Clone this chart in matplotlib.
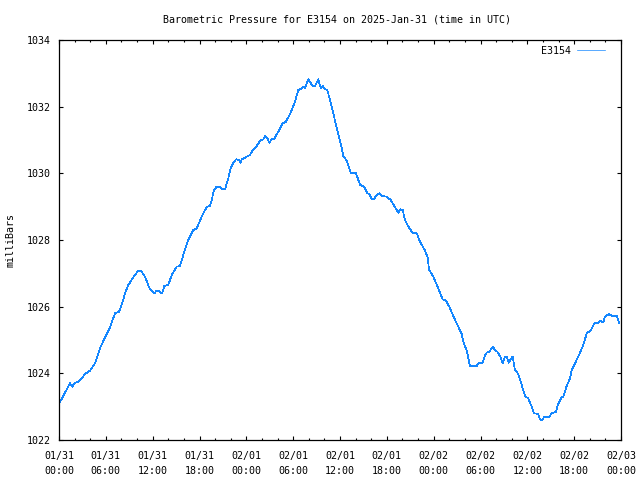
import matplotlib
matplotlib.use('Agg')
import matplotlib.pyplot as plt
import matplotlib.dates as mdates
from matplotlib.ticker import MultipleLocator
import pandas as pd

# hours after 2025-01-31 00:00 UTC
hours = [0.00, 1.41, 1.70, 1.96, 2.47, 2.91, 3.33, 3.97, 4.61, 5.25, 5.89, 6.53, 7.17, 7.69,
         8.24, 8.46, 8.88, 9.52, 10.16, 10.51, 11.02, 11.53, 11.88, 12.21, 12.52, 12.81, 13.07,
         13.23, 13.49, 14.00, 14.44, 15.08, 15.50, 15.92, 16.56, 17.21, 17.64, 18.28, 18.70,
         19.00, 19.34, 19.56, 19.86, 20.20, 20.63, 20.97, 21.27, 21.69, 22.00, 22.33, 22.68,
         23.10, 23.28, 23.41, 24.05, 24.47, 24.89, 25.33, 25.84, 26.17, 26.43, 26.69, 26.94,
         27.25, 27.54, 28.09, 28.66, 29.08, 29.68, 30.23, 30.66, 31.09, 31.30, 31.52, 31.94,
         32.50, 32.80, 33.22, 33.53, 33.78, 34.08, 34.37, 34.72, 35.14, 35.65, 36.09, 36.42,
         36.86, 37.37, 38.05, 38.56, 39.07, 39.50, 39.78, 40.06, 40.36, 40.61, 41.03, 41.34,
         41.98, 42.49, 43.05, 43.47, 43.69, 44.03, 44.33, 44.88, 45.31, 45.83, 46.25, 46.89,
         47.23, 47.40, 47.95, 48.59, 49.16, 49.58, 50.00, 50.51, 51.15, 51.59, 51.79, 52.21,
         52.44, 52.65, 53.51, 53.72, 54.28, 54.58, 54.79, 55.13, 55.56, 55.86, 56.15, 56.50,
         56.84, 57.14, 57.35, 57.61, 57.87, 58.12, 58.42, 58.84, 59.28, 59.70, 60.12, 60.56,
         60.85, 61.40, 61.62, 61.88, 62.13, 62.81, 63.12, 63.67, 63.86, 64.09, 64.40, 64.61,
         65.04, 65.47, 65.68, 66.11, 66.62, 67.17, 67.61, 68.16, 68.58, 69.09, 69.31, 69.73,
         69.95, 70.46, 70.89, 71.45, 71.74]

pressure = [1023.08, 1023.70, 1023.60, 1023.70, 1023.75, 1023.85, 1023.98, 1024.08, 1024.30,
            1024.75, 1025.08, 1025.38, 1025.80, 1025.85, 1026.20, 1026.40, 1026.65, 1026.88,
            1027.08, 1027.08, 1026.90, 1026.58, 1026.48, 1026.40, 1026.48, 1026.48, 1026.40,
            1026.40, 1026.62, 1026.65, 1026.95, 1027.20, 1027.22, 1027.55, 1028.00, 1028.30,
            1028.35, 1028.70, 1028.90, 1029.00, 1029.02, 1029.20, 1029.50, 1029.60, 1029.60,
            1029.52, 1029.52, 1029.85, 1030.15, 1030.32, 1030.42, 1030.40, 1030.32, 1030.42,
            1030.50, 1030.55, 1030.72, 1030.82, 1031.00, 1031.02, 1031.12, 1031.05, 1030.92,
            1031.02, 1031.02, 1031.25, 1031.50, 1031.55, 1031.82, 1032.15, 1032.50, 1032.55,
            1032.60, 1032.55, 1032.82, 1032.62, 1032.62, 1032.82, 1032.55, 1032.62, 1032.52,
            1032.50, 1032.20, 1031.80, 1031.30, 1030.90, 1030.52, 1030.38, 1030.02, 1030.00,
            1029.66, 1029.60, 1029.40, 1029.38, 1029.22, 1029.22, 1029.32, 1029.40, 1029.32,
            1029.30, 1029.20, 1028.98, 1028.82, 1028.92, 1028.90, 1028.60, 1028.35, 1028.22,
            1028.20, 1027.95, 1027.68, 1027.48, 1027.12, 1026.90, 1026.55, 1026.22, 1026.18,
            1026.00, 1025.72, 1025.40, 1025.18, 1024.95, 1024.70, 1024.46, 1024.22, 1024.22,
            1024.30, 1024.32, 1024.55, 1024.62, 1024.65, 1024.80, 1024.70, 1024.65, 1024.52,
            1024.30, 1024.50, 1024.50, 1024.32, 1024.42, 1024.50, 1024.10, 1023.98, 1023.65,
            1023.32, 1023.25, 1023.00, 1022.80, 1022.78, 1022.62, 1022.60, 1022.68, 1022.70,
            1022.80, 1022.84, 1023.02, 1023.15, 1023.28, 1023.30, 1023.62, 1023.85, 1024.10,
            1024.30, 1024.55, 1024.85, 1025.20, 1025.30, 1025.50, 1025.50, 1025.58, 1025.52,
            1025.70, 1025.78, 1025.72, 1025.72, 1025.52]

station = 'E3154'
start = pd.Timestamp('2025-01-31 00:00')
end = pd.Timestamp('2025-02-03 00:00')
times = start + pd.to_timedelta(hours, unit='h')

mono = 'DejaVu Sans Mono'
fs = 7.2

fig = plt.figure(figsize=(6.4, 4.8), dpi=100)
ax = fig.add_axes([59 / 640, 40 / 480, 562 / 640, 400 / 480])

ax.plot(times, pressure, color='#1487ff', lw=0.5, antialiased=False, label=station)

ax.set_xlim(start, end)
ax.set_ylim(1022, 1034)
ax.yaxis.set_major_locator(MultipleLocator(2))
ax.xaxis.set_major_locator(mdates.HourLocator(byhour=range(0, 24, 6)))
ax.xaxis.set_minor_locator(mdates.HourLocator(byhour=range(0, 24, 2)))
ax.xaxis.set_major_formatter(mdates.DateFormatter('%m/%d\n%H:%M'))

ax.tick_params(which='both', direction='in', top=True, right=True, color='black', width=0.8)
ax.tick_params(which='major', length=3.2)
ax.tick_params(which='minor', length=1.6)
ax.tick_params(axis='x', pad=8)
ax.tick_params(axis='y', pad=6)
for lab in ax.get_xticklabels() + ax.get_yticklabels():
    lab.set_fontfamily(mono)
    lab.set_fontsize(fs)
    lab.set_linespacing(1.55)
for s in ax.spines.values():
    s.set_linewidth(0.9)

leg = ax.legend(loc='upper right', frameon=False, prop={'family': mono, 'size': fs},
                markerfirst=False, handlelength=2.8, borderaxespad=0.2, handletextpad=0.6,
                bbox_to_anchor=(0.983, 1.0))

fig.text(0.527, 0.96, 'Barometric Pressure for E3154 on 2025-Jan-31 (time in UTC)',
         ha='center', va='center', family=mono, fontsize=fs)
fig.text(0.017, 0.5, 'milliBars', rotation=90, ha='center', va='center', family=mono, fontsize=fs)

fig.savefig('out.png', dpi=100)
